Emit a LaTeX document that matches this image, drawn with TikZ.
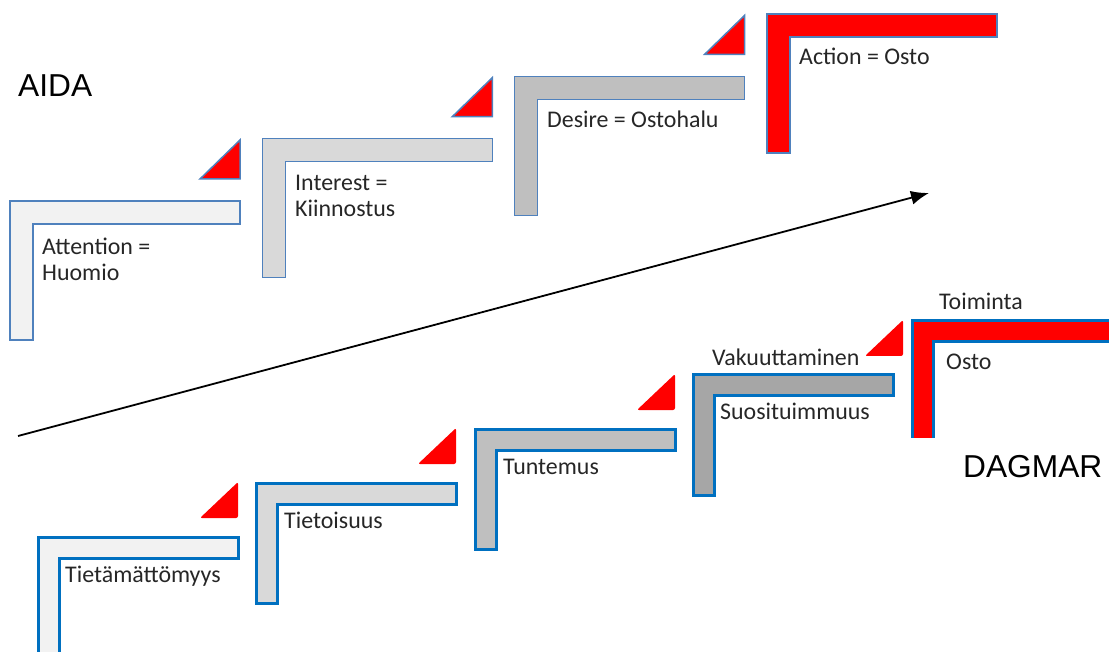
\documentclass[tikz,border=0pt]{standalone}
\usepackage{fontspec}
\setmainfont{Carlito}
\newfontfamily\arialfont{Liberation Sans}
\usetikzlibrary{arrows.meta}
\definecolor{aidaline}{HTML}{4F81BD}
\definecolor{dagline}{HTML}{0070C0}
\definecolor{greyA}{HTML}{F2F2F2}
\definecolor{greyB}{HTML}{D9D9D9}
\definecolor{greyC}{HTML}{BFBFBF}
\definecolor{greyD}{HTML}{A6A6A6}
\definecolor{txt}{HTML}{262626}
\begin{document}
\begin{tikzpicture}[x=1pt, y=-1pt,
    aidastep/.style={draw=aidaline, line width=1.5pt},
    dagstep/.style={draw=dagline, line width=3pt},
    aidatri/.style={draw=aidaline, fill=red, line width=1.5pt},
    dagtri/.style={fill=red, rounded corners=2pt},
    steptext/.style={anchor=base west, inner sep=0pt, text=txt, align=left,
      font=\fontsize{23.9}{26.5}\selectfont},
    modeltext/.style={anchor=base west, inner sep=0pt,
      font=\arialfont\fontsize{31.7}{36}\selectfont}]
  \useasboundingbox (0,0) rectangle (1109,652);
  \clip (0,0) rectangle (1109,652);
  \foreach \i/\col in {0/greyA,1/greyB,2/greyC,3/red}
    \draw[aidastep, fill=\col] (10+252.3*\i, 201-62.3*\i) -- ++(230,0) -- ++(0,23)
      -- ++(-207,0) -- ++(0,116) -- ++(-23,0) -- cycle;
  \foreach \i in {0,1,2}
    \draw[aidatri] (200+252.3*\i, 179-62.3*\i) -- ++(40,0) -- ++(0,-39) -- cycle;
  \foreach \i/\col in {0/greyA,1/greyB,2/greyC,3/greyD}
    \draw[dagstep, fill=\col] (38+218.5*\i, 537-54*\i) -- ++(200,0) -- ++(0,21)
      -- ++(-179,0) -- ++(0,99) -- ++(-21,0) -- cycle;
  \begin{scope}
    \clip (0,0) rectangle (1109,437);
    \draw[dagstep, fill=red] (912,321) -- ++(200,0) -- ++(0,21)
      -- ++(-179,0) -- ++(0,99) -- ++(-21,0) -- cycle;
  \end{scope}
  \foreach \x/\y in {200/518,418/464,637/410,865/356}
    \fill[dagtri] (\x,\y) -- ++(38,0) -- ++(0,-36) -- cycle;
  \node[steptext] (attention) at (42,281) {Attention =\\Huomio};
  \node[steptext] (interest) at (295,217) {Interest =\\Kiinnostus};
  \node[steptext] (desire) at (547,128) {Desire = Ostohalu};
  \node[steptext] (action) at (799,65) {Action = Osto};
  \node[steptext] (tietamattomyys) at (65,582) {Tietämättömyys};
  \node[steptext] (tietoisuus) at (284,528) {Tietoisuus};
  \node[steptext] (tuntemus) at (503,474) {Tuntemus};
  \node[steptext] (suosituimmuus) at (720,420) {Suosituimmuus};
  \node[steptext] (vakuuttaminen) at (712,366) {Vakuuttaminen};
  \node[steptext] (toiminta) at (939,310) {Toiminta};
  \node[steptext] (osto) at (946,370) {Osto};
  \node[modeltext] (aida) at (18,97) {AIDA};
  \node[modeltext] (dagmar) at (963,477) {DAGMAR};
  \coordinate (arrowstart) at (18,436);
  \coordinate (arrowend) at (929,193);
  \draw[-{Latex[length=18pt,width=14pt]}, line width=1.8pt] (arrowstart) -- (arrowend);
\end{tikzpicture}
\end{document}
